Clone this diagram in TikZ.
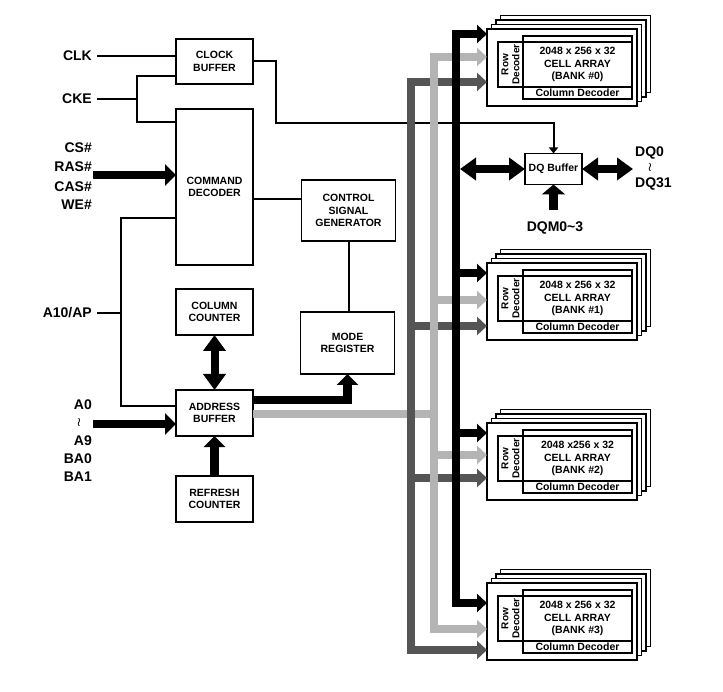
\documentclass[tikz,border=0pt]{standalone}
\usepackage{fontspec}
\setmainfont{Liberation Sans}
\usetikzlibrary{arrows.meta}
\definecolor{dkgray}{HTML}{555555}
\definecolor{ltgray}{HTML}{B4B4B4}
\tikzset{
  box/.style={draw, line width=1.8pt, fill=white, inner sep=1pt, outer sep=0pt, align=center,
    font=\fontsize{10.5}{12.5}\selectfont\bfseries},
  lbl/.style={inner sep=0pt, font=\fontsize{14}{16}\selectfont\bfseries},
  wave/.style={inner sep=0pt, font=\fontsize{13}{14}\selectfont\boldmath},
  wire/.style={line width=2pt},
  tipbig/.tip={Triangle[length=11pt,width=21pt]},
  tiplong/.tip={Triangle[length=16pt,width=22pt]},
  tipbank/.tip={Triangle[length=10pt,width=18pt]},
  tipthin/.tip={Triangle[length=6pt,width=9pt]},
  thickarr/.style={line width=8.5pt, -tipbig},
  dblarr/.style={line width=8pt, tiplong-tiplong},
  bus/.style={line width=8pt},
  banktxt/.style={align=center, inner sep=0pt, font=\fontsize{10.5}{12.5}\selectfont\bfseries},
}
\newcommand{\drawbank}[4]{%
  \foreach \k in {3,2,1}{
    \draw[line width=1.8pt, fill=white] ({487+4.5*\k},{#2-4.5*\k}) rectangle ++(150,77);
  }
  \node[box, minimum width=150pt, minimum height=77pt, anchor=north west] (#1) at (487,#2) {};
  \draw[line width=1.8pt] (498,#2+13) rectangle (632,#2+58);
  \draw[line width=1.8pt] (523,#2+7) rectangle (632,#2+70);
  \node[rotate=90, align=center, inner sep=0pt, font=\fontsize{10}{11}\selectfont\bfseries] (#1r) at (510.5,#2+35.5) {Row\\Decoder};
  \node[banktxt] (#1c) at (577.5,#2+35.5) {#3\\CELL ARRAY\\(BANK \##4)};
  \node[banktxt] (#1d) at (577.5,#2+64) {Column Decoder};
}
\begin{document}
\begin{tikzpicture}[x=1pt,y=-1pt]
\useasboundingbox (0,0) rectangle (723,692);

% ---- boxes
\node[box, minimum width=77pt, minimum height=45pt] (clkb) at (214.5,61.5) {CLOCK\\BUFFER};
\node[box, minimum width=77pt, minimum height=156pt] (cmd) at (214.5,187) {COMMAND\\DECODER};
\node[box, minimum width=94pt, minimum height=61pt] (csg) at (348.5,210.5) {CONTROL\\SIGNAL\\GENERATOR};
\node[box, minimum width=77pt, minimum height=46pt] (colc) at (214.5,312) {COLUMN\\COUNTER};
\node[box, minimum width=94pt, minimum height=62pt] (mr) at (347.5,343) {MODE\\REGISTER};
\node[box, minimum width=77pt, minimum height=46pt] (addr) at (214.5,413) {ADDRESS\\BUFFER};
\node[box, minimum width=77pt, minimum height=46pt] (refc) at (214.5,499) {REFRESH\\COUNTER};
\node[box, minimum width=57pt, minimum height=31pt] (dqb) at (553.5,169) {DQ Buffer};

% ---- labels
\node[lbl, anchor=east] (clk) at (92,56) {CLK};
\node[lbl, anchor=east] (cke) at (92,99) {CKE};
\node[lbl, anchor=east] (cs) at (92,148) {CS\#};
\node[lbl, anchor=east] (ras) at (92,167) {RAS\#};
\node[lbl, anchor=east] (cas) at (92,187) {CAS\#};
\node[lbl, anchor=east] (we) at (92,205) {WE\#};
\node[lbl, anchor=east] (a10) at (92,313) {A10/AP};
\node[lbl, anchor=east] (a0) at (92,405) {A0};
\node[wave] (tl1) at (79,423) {$\wr$};
\node[lbl, anchor=east] (a9) at (92,441) {A9};
\node[lbl, anchor=east] (ba0) at (92,459) {BA0};
\node[lbl, anchor=east] (ba1) at (92,477) {BA1};
\node[lbl, anchor=west] (dq0) at (635,153) {DQ0};
\node[wave] (tl2) at (650,168) {$\wr$};
\node[lbl, anchor=west] (dq31) at (635,184) {DQ31};
\node[lbl] (dqm) at (555,228) {DQM0\textasciitilde3};

% ---- thin wires
\draw[wire] ([xshift=5pt]clk.east) -- (clkb.west |- clk.east);
\draw[wire] ([xshift=5pt]cke.east) -- (137,99);
\draw[wire] (clkb.west |- 0,76) -| (137,122) -- (cmd.west |- 0,122);
\draw[wire] ([xshift=5pt]a10.east) -- (121,313);
\draw[wire] (cmd.west |- 0,218) -| (121,406) -- (addr.west |- 0,406);
\draw[wire] (cmd.east |- 0,199) -- (csg.west |- 0,199);
\draw[wire] (csg.south) -- (csg.south |- mr.north);
\draw[wire, -tipthin] (clkb.east) -| (276,123) -| (dqb.north);

% ---- thick arrows on the left
\draw[thickarr] (93,175) -- (cmd.west |- 0,175);
\draw[thickarr] (93,424) -- (addr.west |- 0,424);
\draw[dblarr] (colc.south) -- (addr.north);
\draw[thickarr] (refc.north) -- (addr.south);
\draw[thickarr] (addr.east |- 0,400) -| (mr.south);
\draw[line width=7.5pt, ltgray] (addr.east |- 0,414) -- (434,414);

% ---- banks
\drawbank{b0}{29}{2048 x 256 x 32}{0}
\drawbank{b1}{263}{2048 x 256 x 32}{1}
\drawbank{b2}{423}{2048 x256 x 32}{2}
\drawbank{b3}{583}{2048 x 256 x 32}{3}

% ---- middle bank arrows
\draw[bus, black, -tipbank] (456,273) -- (b1.west |- 0,273);
\draw[bus, ltgray, -tipbank] (434,300) -- (b1.west |- 0,300);
\draw[bus, dkgray, -tipbank] (411,326) -- (b1.west |- 0,326);
\draw[bus, black, -tipbank] (456,433) -- (b2.west |- 0,433);
\draw[bus, ltgray, -tipbank] (434,455) -- (b2.west |- 0,455);
\draw[bus, dkgray, -tipbank] (411,478) -- (b2.west |- 0,478);

% ---- buses
\draw[bus, dkgray, tipbank-tipbank] (b0.west |- 0,82) -- (411,82) -- (411,650) -- (b3.west |- 0,650);
\draw[bus, ltgray, tipbank-tipbank] (b0.west |- 0,57) -- (434,57) -- (434,629) -- (b3.west |- 0,629);
\draw[bus, black, tipbank-tipbank] (b0.west |- 0,34) -- (456,34) -- (456,603) -- (b3.west |- 0,603);

% ---- DQ arrows
\draw[dblarr] (460,169) -- (dqb.west);
\draw[dblarr] (dqb.east) -- (633,169);
\draw[line width=9pt, -{Triangle[length=10pt,width=23pt]}] (dqb.south |- 0,210) -- (dqb.south);
\end{tikzpicture}
\end{document}
